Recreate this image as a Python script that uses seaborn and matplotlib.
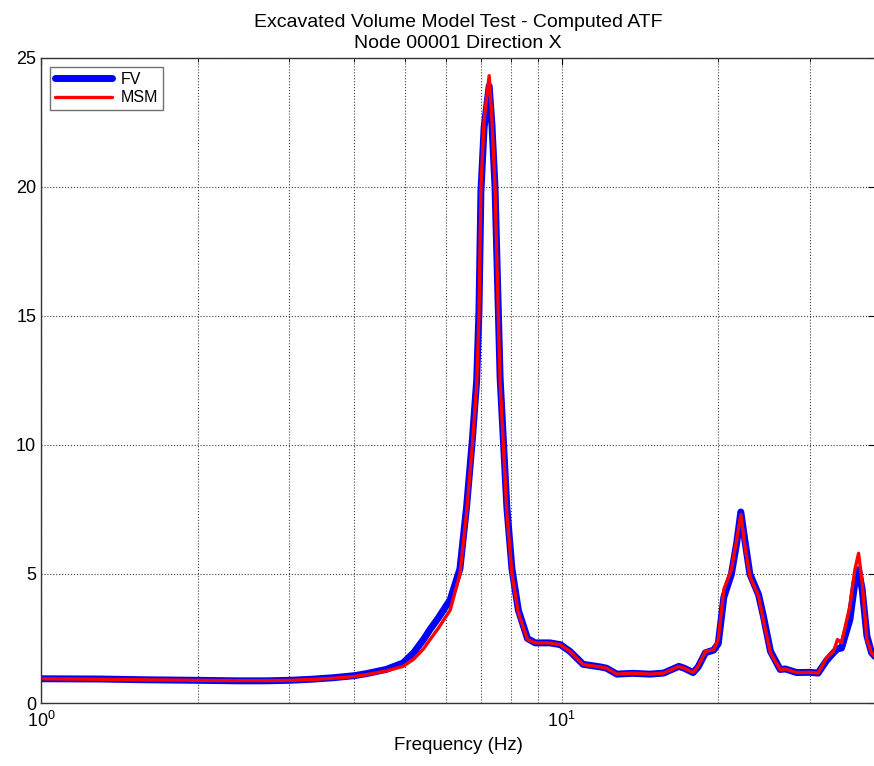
import seaborn as sns
import matplotlib.pyplot as plt
import matplotlib.ticker as mticker
import numpy as np

# frequency (Hz) and transfer function amplitude for the two models
freq = [1.0, 1.3, 1.6, 2.0, 2.4, 2.7, 3.0, 3.3, 3.64, 4.0, 4.22, 4.6, 4.96,
        5.2, 5.43, 5.59, 5.8, 6.11, 6.38, 6.57, 6.74, 6.87, 6.94, 7.0, 7.1,
        7.26, 7.35, 7.45, 7.56, 7.62, 7.73, 7.85, 8.03, 8.26, 8.6, 8.9, 9.5,
        9.95, 10.38, 11.0, 11.86, 12.2, 12.77, 13.7, 14.8, 15.7, 16.8, 17.2,
        17.9, 18.3, 18.9, 19.6, 20.0, 20.5, 21.2, 21.7, 22.1, 22.5, 23.0,
        23.9, 24.4, 25.2, 26.3, 26.9, 28.3, 30.0, 31.1, 32.3, 33.3, 33.9,
        34.5, 35.8, 36.6, 37.2, 37.8, 38.6, 39.4, 40.0]
fv = [0.94, 0.93, 0.90, 0.88, 0.86, 0.86, 0.88, 0.92, 0.98, 1.06, 1.14, 1.30,
      1.55, 1.95, 2.46, 2.85, 3.3, 4.0, 5.2, 7.6, 10.2, 12.5, 15.2, 19.8,
      22.3, 23.9, 22.4, 20.0, 15.2, 12.6, 10.2, 7.6, 5.2, 3.6, 2.5, 2.33,
      2.33, 2.26, 2.0, 1.5, 1.40, 1.35, 1.12, 1.15, 1.12, 1.16, 1.42, 1.35,
      1.18, 1.40, 1.95, 2.05, 2.3, 4.1, 5.0, 6.2, 7.4, 6.3, 5.0, 4.2, 3.4,
      2.0, 1.3, 1.32, 1.18, 1.19, 1.16, 1.65, 1.95, 2.1, 2.13, 3.23, 4.66,
      5.17, 4.4, 2.6, 1.95, 1.8]
msm = [0.94, 0.92, 0.90, 0.88, 0.87, 0.87, 0.88, 0.91, 0.96, 1.03, 1.10, 1.24,
       1.42, 1.7, 2.1, 2.46, 2.9, 3.6, 5.0, 7.37, 10.0, 12.3, 15.0, 20.0,
       22.6, 24.3, 22.6, 20.0, 15.0, 12.4, 10.0, 7.37, 5.0, 3.49, 2.46, 2.33,
       2.33, 2.26, 2.0, 1.49, 1.40, 1.35, 1.12, 1.16, 1.12, 1.16, 1.42, 1.35,
       1.18, 1.42, 2.0, 2.07, 2.46, 4.4, 5.17, 6.34, 7.3, 6.08, 4.91, 4.14,
       3.23, 1.94, 1.29, 1.32, 1.18, 1.19, 1.16, 1.75, 2.0, 2.46, 2.33, 3.75,
       5.17, 5.8, 4.66, 2.46, 1.94, 1.8]

sns.set_style("white")
plt.rcParams['font.family'] = ['Liberation Sans', 'DejaVu Sans']
plt.rcParams['text.color'] = 'black'

fig = plt.figure(figsize=(8.74, 7.66), dpi=100)
ax = fig.add_axes([0.0469, 0.0822, 0.9542, 0.8426])

sns.lineplot(x=freq, y=fv, color='blue', lw=5.0, label='FV', ax=ax)
sns.lineplot(x=freq, y=msm, color='red', lw=2.4, label='MSM', ax=ax)

ax.set_xscale('log')
ax.set_xlim(1, 40)
ax.set_ylim(0, 25)
ax.set_yticks(np.arange(0, 26, 5))
ax.xaxis.set_minor_locator(mticker.LogLocator(base=10, subs=np.arange(2, 10)))
ax.xaxis.set_minor_formatter(mticker.NullFormatter())

ax.grid(True, which='major', ls=':', color='0.25', lw=0.8)
ax.grid(True, which='minor', axis='x', ls=':', color='0.25', lw=0.8)
ax.tick_params(direction='in', which='both', top=True, right=True,
               labelsize=13, colors='black')
ax.tick_params(which='major', length=5)
ax.tick_params(which='minor', length=3)
ax.tick_params(axis='x', pad=6)
for s in ax.spines.values():
    s.set_color('0.2')
    s.set_linewidth(1.0)

ax.set_title('Excavated Volume Model Test - Computed ATF\nNode 00001 Direction X',
             fontsize=14, linespacing=1.3, pad=7, color='black')
ax.set_xlabel('Frequency (Hz)', fontsize=13.5, color='black', labelpad=4)
ax.set_ylabel('')

leg = ax.legend(loc='upper left', fontsize=11.5, frameon=True, fancybox=False,
                edgecolor='0.3', handlelength=3.6, borderpad=0.3,
                labelspacing=0.2, handletextpad=0.5, borderaxespad=0,
                bbox_to_anchor=(0.011, 0.985))
leg.get_frame().set_linewidth(1.0)

fig.savefig('out.png', dpi=100)
